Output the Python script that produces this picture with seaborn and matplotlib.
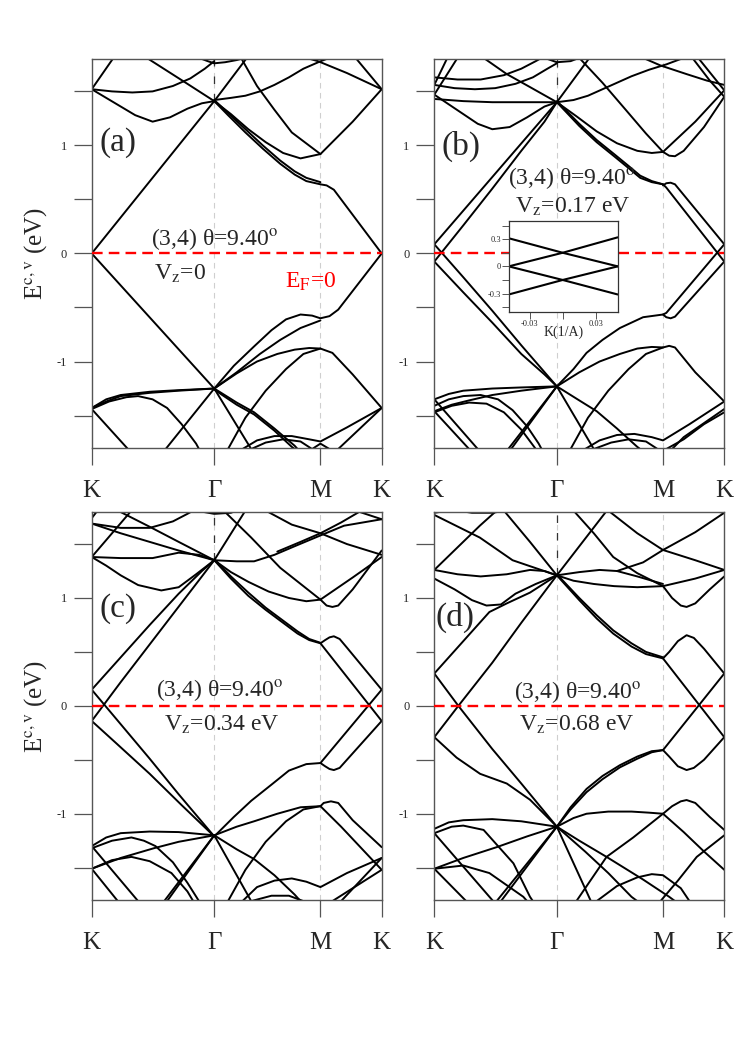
import pandas as pd
import matplotlib
matplotlib.use('Agg')
import matplotlib.pyplot as plt
import seaborn as sns

sns.set_theme(style='ticks')
plt.rcParams['font.family'] = ['Liberation Serif', 'DejaVu Serif']
plt.rcParams['mathtext.fontset'] = 'stix'

# high symmetry points along K-Gamma-M-K (fraction of path)
G = 0.4226
M = 0.7887
k_ticks = [0, G, M, 1]
k_labels = ['K', '\u0393', 'M', 'K']

# bands: list of (k, E) vertices per band
bands_a = [
    [(0, 0.0), (G, 1.41), (0.535, 1.81)],
    [(0, 0.0), (G, -1.25)],
    [(G, 1.41), (0.47, 1.28), (0.53, 1.12), (0.59, 0.97), (0.65, 0.83), (0.70, 0.73), (0.74, 0.67), (M, 0.64), (0.81, 0.63), (0.835, 0.59), (1.0, 0.0)],
    [(G, 1.42), (0.47, 1.30), (0.53, 1.15), (0.59, 1.00), (0.65, 0.86), (0.70, 0.76), (0.74, 0.70), (M, 0.66)],
    [(G, 1.41), (0.48, 1.29), (0.54, 1.15), (0.60, 1.03), (0.66, 0.93), (0.72, 0.88), (M, 0.92)],
    [(0.515, 1.81), (0.57, 1.55), (0.63, 1.33), (0.69, 1.12), (M, 0.92), (0.9, 1.22), (1.0, 1.52)],
    [(0, 1.52), (0.05, 1.44), (0.10, 1.36), (0.15, 1.28), (0.21, 1.22), (0.27, 1.26), (0.33, 1.34), (0.38, 1.39), (G, 1.41)],
    [(0, 1.52), (0.07, 1.50), (0.14, 1.49), (0.21, 1.50), (0.28, 1.55), (0.34, 1.62), (0.39, 1.71), (G, 1.78)],
    [(0, 1.52), (0.075, 1.81)],
    [(0.19, 1.81), (0.26, 1.69), (0.33, 1.57), (G, 1.41)],
    [(0.37, 1.81), (0.40, 1.78), (G, 1.76), (0.46, 1.77), (0.50, 1.79), (0.53, 1.81)],
    [(G, 1.42), (0.48, 1.44), (0.53, 1.46), (0.58, 1.50), (0.63, 1.56), (0.68, 1.63), (0.73, 1.71), (0.79, 1.78), (0.82, 1.81)],
    [(0.74, 1.81), (0.78, 1.78), (0.88, 1.67), (1.0, 1.52)],
    [(1.0, 1.52), (0.91, 1.81)],
    [(G, -1.25), (0.49, -1.04), (0.56, -0.86), (0.62, -0.71), (0.67, -0.61), (0.72, -0.565), (0.76, -0.575), (M, -0.60), (0.82, -0.58), (0.85, -0.52), (1.0, 0.0)],
    [(G, -1.25), (0.50, -1.10), (0.58, -0.93), (0.65, -0.80), (0.72, -0.69), (M, -0.62)],
    [(G, -1.25), (0.50, -1.11), (0.57, -1.0), (0.64, -0.93), (0.70, -0.89), (0.75, -0.875), (M, -0.88), (0.83, -0.92), (0.90, -1.12), (1.0, -1.43)],
    [(0.47, -1.81), (0.53, -1.52), (0.60, -1.27), (0.67, -1.07), (0.73, -0.93), (M, -0.88)],
    [(0, -1.43), (0.05, -1.35), (0.10, -1.31), (0.2, -1.28), (0.3, -1.265), (G, -1.25)],
    [(0, -1.43), (0.05, -1.37), (0.10, -1.32), (0.2, -1.29), (0.3, -1.27), (G, -1.25)],
    [(0, -1.44), (0.06, -1.37), (0.12, -1.33), (0.16, -1.32), (0.21, -1.35), (0.26, -1.43), (0.31, -1.58), (0.36, -1.76), (0.37, -1.81)],
    [(0, -1.44), (0.125, -1.81)],
    [(0.255, -1.81), (G, -1.25), (0.55, -1.81)],
    [(G, -1.25), (0.50, -1.38), (0.56, -1.47), (0.63, -1.62), (0.70, -1.78), (0.71, -1.81)],
    [(G, -1.26), (0.50, -1.40), (0.56, -1.49), (0.63, -1.64), (0.69, -1.79), (0.70, -1.81)],
    [(0.52, -1.81), (0.57, -1.73), (0.63, -1.69), (0.69, -1.69), (0.75, -1.72), (M, -1.74), (0.88, -1.61), (1.0, -1.43)],
    [(0.55, -1.81), (0.60, -1.75), (0.66, -1.72), (0.72, -1.74), (0.76, -1.81)],
    [(0.76, -1.81), (M, -1.76), (0.82, -1.81)],
    [(1.0, -1.43), (0.85, -1.81)],
]

bands_b = [
    [(0, 0.085), (G, 1.40), (0.535, 1.81)],
    [(0, -0.075), (0.1, 0.26), (0.2, 0.60), (0.3, 0.95), (0.38, 1.22), (G, 1.40)],
    [(0, 0.085), (0.1, -0.22), (0.2, -0.53), (0.3, -0.85), (G, -1.23)],
    [(0, -0.075), (0.1, -0.36), (0.2, -0.64), (0.3, -0.93), (0.38, -1.12), (G, -1.23)],
    [(G, 1.40), (0.50, 1.18), (0.56, 1.03), (0.62, 0.90), (0.67, 0.79), (0.71, 0.70), (0.75, 0.66), (M, 0.64), (0.80, 0.61), (1.0, -0.075)],
    [(G, 1.41), (0.50, 1.20), (0.56, 1.05), (0.62, 0.92), (0.67, 0.81), (0.71, 0.72), (0.75, 0.67), (M, 0.64)],
    [(M, 0.63), (0.80, 0.65), (0.815, 0.655), (0.83, 0.64), (1.0, 0.085)],
    [(G, -1.23), (0.48, -1.07), (0.525, -0.92), (0.58, -0.80), (0.64, -0.69), (0.72, -0.59), (M, -0.565), (0.80, -0.55), (1.0, 0.085)],
    [(M, -0.565), (0.80, -0.59), (0.815, -0.60), (0.83, -0.585), (1.0, -0.075)],
    [(G, 1.40), (0.49, 1.27), (0.56, 1.13), (0.63, 1.02), (0.70, 0.95), (0.75, 0.93), (M, 0.94)],
    [(0.50, 1.81), (0.58, 1.58), (0.66, 1.33), (0.73, 1.11), (M, 0.94), (0.9, 1.22), (1.0, 1.51)],
    [(M, 0.94), (0.81, 0.905), (0.83, 0.90), (0.86, 0.95), (0.93, 1.17), (1.0, 1.45)],
    [(0, 1.47), (0.05, 1.38), (0.10, 1.29), (0.15, 1.20), (0.20, 1.15), (0.26, 1.17), (0.32, 1.26), (0.38, 1.36), (G, 1.40)],
    [(0, 1.43), (0.1, 1.41), (0.2, 1.40), (0.3, 1.40), (G, 1.40)],
    [(0, 1.56), (0.07, 1.53), (0.14, 1.52), (0.21, 1.53), (0.28, 1.57), (0.34, 1.63), (0.39, 1.71), (G, 1.76)],
    [(0, 1.63), (0.08, 1.61), (0.16, 1.61), (0.24, 1.65), (0.30, 1.71), (0.35, 1.78), (0.37, 1.81)],
    [(0, 1.47), (0.08, 1.81)],
    [(0, 1.56), (0.045, 1.81)],
    [(0.17, 1.81), (0.25, 1.66), (0.33, 1.54), (G, 1.40)],
    [(0.38, 1.81), (G, 1.77), (0.47, 1.78), (0.50, 1.81)],
    [(G, 1.40), (0.48, 1.42), (0.53, 1.46), (0.58, 1.52), (0.63, 1.58), (0.68, 1.64), (0.74, 1.70), (0.80, 1.75), (0.86, 1.81)],
    [(0.72, 1.81), (0.78, 1.74), (0.87, 1.66), (0.94, 1.60), (1.0, 1.56)],
    [(1.0, 1.51), (0.91, 1.81)],
    [(1.0, 1.45), (0.95, 1.60), (0.89, 1.81)],
    [(0, -1.35), (0.05, -1.30), (0.1, -1.27), (0.2, -1.25), (0.3, -1.24), (G, -1.23)],
    [(0, -1.41), (0.05, -1.35), (0.10, -1.32), (0.16, -1.31), (0.22, -1.35), (0.27, -1.45), (0.32, -1.60), (0.36, -1.76), (0.37, -1.81)],
    [(0, -1.46), (0.06, -1.40), (0.12, -1.36), (0.2, -1.31), (0.3, -1.27), (G, -1.23)],
    [(0, -1.47), (0.06, -1.41), (0.12, -1.38), (0.18, -1.39), (0.24, -1.47), (0.30, -1.63), (0.35, -1.81)],
    [(0, -1.35), (0.15, -1.81)],
    [(0, -1.46), (0.12, -1.81)],
    [(0.255, -1.81), (G, -1.23), (0.55, -1.81)],
    [(0.265, -1.81), (G, -1.23)],
    [(G, -1.23), (0.50, -1.36), (0.56, -1.46), (0.63, -1.62), (0.70, -1.79), (0.71, -1.81)],
    [(G, -1.23), (0.50, -1.10), (0.57, -1.0), (0.64, -0.93), (0.70, -0.88), (0.75, -0.865), (M, -0.87), (0.81, -0.855), (0.83, -0.87), (0.90, -1.10), (1.0, -1.37)],
    [(0.47, -1.81), (0.53, -1.52), (0.60, -1.27), (0.67, -1.07), (0.73, -0.93), (M, -0.87)],
    [(0.52, -1.81), (0.57, -1.73), (0.63, -1.68), (0.69, -1.67), (0.75, -1.70), (M, -1.73), (0.88, -1.58), (1.0, -1.37)],
    [(0.55, -1.81), (0.61, -1.75), (0.67, -1.72), (0.73, -1.74), (0.77, -1.81)],
    [(1.0, -1.44), (0.86, -1.70), (0.82, -1.81)],
    [(0.80, -1.81), (0.86, -1.72), (0.93, -1.58), (1.0, -1.47)],
]

bands_c = [
    [(0, 0.15), (0.1, 0.45), (0.2, 0.75), (0.3, 1.04), (0.38, 1.25), (G, 1.35)],
    [(0, -0.14), (0.1, 0.22), (0.2, 0.57), (0.3, 0.92), (0.38, 1.20), (G, 1.35)],
    [(0, 0.15), (0.1, -0.17), (0.2, -0.49), (0.3, -0.82), (G, -1.21)],
    [(0, -0.14), (0.086, -0.35), (0.2, -0.63), (0.31, -0.92), (G, -1.21)],
    [(G, 1.35), (0.53, 1.81)],
    [(G, 1.35), (0.48, 1.18), (0.54, 1.02), (0.60, 0.89), (0.66, 0.77), (0.71, 0.67), (0.75, 0.61), (M, 0.58), (1.0, -0.14)],
    [(G, 1.36), (0.48, 1.20), (0.54, 1.05), (0.60, 0.91), (0.66, 0.79), (0.71, 0.69), (0.75, 0.62), (M, 0.585)],
    [(M, 0.58), (0.805, 0.61), (0.82, 0.635), (0.835, 0.645), (0.855, 0.62), (0.88, 0.54), (1.0, 0.15)],
    [(G, -1.21), (0.49, -1.03), (0.55, -0.88), (0.62, -0.73), (0.68, -0.60), (0.74, -0.54), (M, -0.53), (1.0, 0.15)],
    [(M, -0.53), (0.805, -0.56), (0.82, -0.585), (0.835, -0.595), (0.855, -0.575), (0.88, -0.50), (1.0, -0.14)],
    [(G, 1.35), (0.48, 1.24), (0.54, 1.15), (0.61, 1.06), (0.68, 1.0), (0.74, 0.97), (M, 0.985)],
    [(0.455, 1.81), (0.55, 1.56), (0.65, 1.28), (M, 0.985), (0.9, 1.19), (1.0, 1.38)],
    [(M, 0.985), (0.81, 0.93), (0.83, 0.917), (0.85, 0.93), (0.9, 1.08), (1.0, 1.44)],
    [(0, 1.38), (0.1, 1.37), (0.21, 1.37), (0.3, 1.42), (0.37, 1.40), (G, 1.35)],
    [(0, 1.38), (0.05, 1.30), (0.10, 1.21), (0.16, 1.12), (0.24, 1.07), (0.30, 1.10), (0.36, 1.22), (G, 1.35)],
    [(0, 1.69), (0.1, 1.65), (0.2, 1.65), (0.28, 1.71), (0.33, 1.78), (0.35, 1.81)],
    [(0, 1.69), (0.1, 1.60), (0.2, 1.52), (0.3, 1.44), (G, 1.35)],
    [(0, 1.38), (0.137, 1.81)],
    [(0, 1.74), (0.02, 1.81)],
    [(0.09, 1.81), (0.2, 1.66), (0.3, 1.52), (G, 1.35)],
    [(G, 1.35), (0.50, 1.34), (0.56, 1.34), (0.63, 1.40), (0.70, 1.48), (0.78, 1.57), (0.87, 1.67), (1.0, 1.73)],
    [(0.60, 1.81), (0.69, 1.68), (M, 1.60), (0.88, 1.50), (1.0, 1.40)],
    [(0.93, 1.81), (0.86, 1.70), (M, 1.60), (0.72, 1.52), (0.64, 1.43)],
    [(1.0, 1.73), (0.91, 1.81)],
    [(0.36, 1.81), (G, 1.78), (0.48, 1.79), (0.50, 1.81)],
    [(G, -1.20), (0.50, -1.12), (0.56, -1.07), (0.64, -1.0), (0.72, -0.94), (M, -0.93), (0.86, -1.12), (0.93, -1.32), (1.0, -1.52)],
    [(0.47, -1.81), (0.53, -1.52), (0.60, -1.26), (0.67, -1.07), (0.73, -0.96), (M, -0.93)],
    [(M, -0.93), (0.80, -0.90), (0.825, -0.885), (0.85, -0.90), (0.9, -1.06), (1.0, -1.31)],
    [(0, -1.30), (0.05, -1.22), (0.10, -1.18), (0.2, -1.165), (0.3, -1.17), (G, -1.20)],
    [(0, -1.32), (0.07, -1.25), (0.137, -1.22), (0.18, -1.25), (0.22, -1.30), (0.28, -1.45), (0.33, -1.64), (0.37, -1.81)],
    [(0, -1.51), (0.1, -1.41), (0.214, -1.32), (0.3, -1.26), (G, -1.20)],
    [(0, -1.51), (0.07, -1.43), (0.137, -1.40), (0.2, -1.44), (0.275, -1.55), (0.33, -1.72), (0.35, -1.81)],
    [(0, -1.30), (0.16, -1.81)],
    [(0, -1.51), (0.09, -1.81)],
    [(0.25, -1.81), (G, -1.20), (0.55, -1.81)],
    [(0.26, -1.81), (G, -1.20)],
    [(G, -1.20), (0.50, -1.33), (0.56, -1.42), (0.63, -1.57), (0.70, -1.75), (0.72, -1.81)],
    [(0.52, -1.81), (0.57, -1.68), (0.63, -1.62), (0.69, -1.60), (0.74, -1.63), (M, -1.68), (0.88, -1.55), (1.0, -1.41)],
    [(0.55, -1.81), (0.62, -1.76), (0.68, -1.76), (0.73, -1.81)],
    [(1.0, -1.41), (0.86, -1.81)],
    [(1.0, -1.52), (0.83, -1.81)],
]

bands_d = [
    [(0, 0.30), (0.1, 0.60), (0.19, 0.87), (0.25, 0.95), (0.33, 1.05), (G, 1.21)],
    [(0, -0.29), (0.083, 0.0), (0.2, 0.40), (0.3, 0.77), (G, 1.21)],
    [(0, 1.18), (0.07, 1.08), (0.13, 0.98), (0.18, 0.93), (0.23, 0.94), (0.28, 1.04), (0.35, 1.13), (G, 1.21)],
    [(0, 0.30), (0.083, 0.0), (0.2, -0.40), (0.3, -0.72), (G, -1.12)],
    [(0, -0.29), (0.077, -0.48), (0.158, -0.63), (0.25, -0.72), (0.33, -0.87), (G, -1.12)],
    [(G, 1.21), (0.595, 1.81)],
    [(G, 1.21), (0.50, 0.98), (0.56, 0.81), (0.617, 0.67), (0.68, 0.55), (0.73, 0.48), (M, 0.44), (1.0, -0.29)],
    [(G, 1.22), (0.50, 1.00), (0.56, 0.84), (0.617, 0.70), (0.68, 0.58), (0.73, 0.50), (M, 0.45)],
    [(M, 0.44), (0.81, 0.50), (0.84, 0.60), (0.87, 0.655), (0.895, 0.63), (0.93, 0.53), (1.0, 0.30)],
    [(G, -1.12), (0.47, -0.96), (0.525, -0.80), (0.58, -0.68), (0.64, -0.57), (0.70, -0.49), (0.75, -0.43), (M, -0.41), (1.0, 0.30)],
    [(G, -1.12), (0.47, -0.94), (0.525, -0.77), (0.58, -0.65), (0.64, -0.55), (0.70, -0.47), (0.75, -0.42), (M, -0.41)],
    [(M, -0.41), (0.81, -0.47), (0.84, -0.56), (0.87, -0.595), (0.895, -0.575), (0.93, -0.50), (1.0, -0.29)],
    [(G, 1.21), (0.48, 1.16), (0.55, 1.13), (0.62, 1.11), (0.70, 1.10), (M, 1.11)],
    [(G, 1.21), (0.50, 1.24), (0.57, 1.26), (0.63, 1.25), (0.70, 1.20), (M, 1.13)],
    [(0.48, 1.81), (0.55, 1.60), (0.617, 1.38), (0.70, 1.23), (M, 1.11), (0.9, 1.18), (1.0, 1.26)],
    [(M, 1.11), (0.82, 1.0), (0.85, 0.93), (0.87, 0.917), (0.9, 0.95), (0.95, 1.08), (1.0, 1.20)],
    [(0.60, 1.81), (0.70, 1.60), (M, 1.445), (0.9, 1.35), (1.0, 1.26)],
    [(1.0, 1.79), (0.9, 1.61), (M, 1.445), (0.72, 1.33), (0.63, 1.25)],
    [(0, 1.26), (0.08, 1.22), (0.16, 1.20), (0.25, 1.22), (0.33, 1.26), (0.38, 1.25), (G, 1.21)],
    [(0, 1.77), (0.157, 1.56), (0.27, 1.35), (G, 1.21)],
    [(0, 1.26), (0.157, 1.67), (0.215, 1.81)],
    [(0.24, 1.81), (0.33, 1.52), (G, 1.21)],
    [(0, 1.79), (0.05, 1.81)],
    [(0.08, 1.81), (0.13, 1.79), (0.2, 1.79), (0.25, 1.81)],
    [(1.0, 1.79), (0.95, 1.81)],
    [(G, -1.12), (0.48, -1.04), (0.525, -1.0), (0.6, -0.98), (0.68, -0.98), (0.74, -0.99), (M, -1.0), (0.86, -1.17), (0.93, -1.35), (1.0, -1.52)],
    [(M, -1.0), (0.82, -0.93), (0.85, -0.885), (0.87, -0.873), (0.9, -0.90), (0.95, -1.03), (1.0, -1.15)],
    [(G, -1.12), (0.50, -1.25), (0.594, -1.40), (0.72, -1.61), (0.81, -1.77), (0.83, -1.81)],
    [(0.49, -1.81), (0.594, -1.40), (0.686, -1.22), (M, -1.0)],
    [(0.56, -1.81), (0.63, -1.67), (0.70, -1.59), (0.75, -1.56), (M, -1.57), (0.85, -1.69), (0.88, -1.81)],
    [(0.78, -1.81), (0.84, -1.62), (0.905, -1.40), (1.0, -1.20)],
    [(G, -1.12), (0.54, -1.81)],
    [(G, -1.12), (0.52, -1.35), (0.60, -1.55), (0.68, -1.77), (0.70, -1.81)],
    [(0.215, -1.81), (G, -1.12)],
    [(0.23, -1.81), (G, -1.12)],
    [(0, -1.14), (0.05, -1.08), (0.10, -1.06), (0.2, -1.05), (0.3, -1.07), (G, -1.12)],
    [(0, -1.18), (0.06, -1.12), (0.10, -1.11), (0.17, -1.15), (0.273, -1.46), (0.33, -1.77), (0.34, -1.81)],
    [(0, -1.51), (0.1, -1.41), (0.215, -1.31), (0.32, -1.21), (G, -1.12)],
    [(0, -1.51), (0.10, -1.48), (0.19, -1.55), (0.307, -1.77), (0.32, -1.81)],
    [(0, -1.18), (0.203, -1.81)],
    [(0, -1.51), (0.11, -1.81)],
]

# inset of panel (b): bands near K
inset_bands = [
    [(-0.049, 0.31), (0.0, 0.15), (0.05, 0.0)],
    [(-0.049, 0.0), (0.0, 0.15), (0.05, 0.32)],
    [(-0.049, 0.0), (0.0, -0.15), (0.05, -0.31)],
    [(-0.049, -0.31), (0.0, -0.15), (0.05, 0.0)],
]

panel_tags = ['(a)', '(b)', '(c)', '(d)']
vz_labels = ['V$_{\\rm z}$=0', 'V$_{\\rm z}$=0.17 eV', 'V$_{\\rm z}$=0.34 eV', 'V$_{\\rm z}$=0.68 eV']
gamma_top = [1.41, 1.40, 1.35, 1.21]


def to_frame(bands):
    rows = []
    for i, band in enumerate(bands):
        for k, e in band:
            rows.append({'band': i, 'k': k, 'E': e})
    return pd.DataFrame(rows)


fig = plt.figure(figsize=(7.48, 10.57), dpi=100)
positions = [[0.1226, 0.5762, 0.3877, 0.368], [0.5806, 0.5762, 0.3877, 0.368],
             [0.1226, 0.1485, 0.3877, 0.3674], [0.5806, 0.1485, 0.3877, 0.3674]]
all_bands = [bands_a, bands_b, bands_c, bands_d]
# text anchors (k, E) for tag, title line, Vz line
tag_pos = [(0.026, 1.03), (0.026, 0.99), (0.026, 0.90), (0.005, 0.82)]
title_pos = [(0.205, 0.13), (0.255, 0.70), (0.222, 0.145), (0.275, 0.13)]
vz_pos = [(0.215, -0.19), (0.28, 0.435), (0.25, -0.18), (0.293, -0.18)]

spine_col = '#555555'
for i in range(4):
    ax = fig.add_axes(positions[i])
    df = to_frame(all_bands[i])
    sns.lineplot(data=df, x='k', y='E', units='band', estimator=None, sort=False,
                 color='black', lw=1.4, ax=ax, legend=False)
    ax.axvline(G, color='#cfcfcf', lw=0.8, ls=(0, (5, 4)), zorder=0)
    ax.axvline(M, color='#cfcfcf', lw=0.8, ls=(0, (5, 4)), zorder=0)
    ax.plot([G, G], [gamma_top[i], 1.8], color='#333333', lw=0.9, ls=(0, (6, 8)), zorder=1)
    ax.axhline(0, color='red', lw=1.7, ls=(0, (4.5, 2.6)), zorder=4)
    ax.set_xlim(0, 1)
    ax.set_ylim(-1.8, 1.8)
    ax.set_xticks(k_ticks)
    ax.set_xticklabels(k_labels, fontsize=18)
    ax.set_yticks([-1, 0, 1])
    ax.set_yticklabels(['-1', '0', '1'], fontsize=9)
    ax.set_yticks([-1.5, -0.5, 0.5, 1.5], minor=True)
    ax.tick_params(axis='x', direction='out', length=12, width=0.9, color=spine_col, pad=11)
    ax.tick_params(axis='y', which='both', direction='out', length=13, width=0.9, color=spine_col, pad=5)
    ax.set_xlabel('')
    ax.set_ylabel('')
    for s in ax.spines.values():
        s.set_color(spine_col)
        s.set_linewidth(1.0)
    ax.text(*tag_pos[i], panel_tags[i], fontsize=24, ha='left', va='center')
    ax.text(*title_pos[i], '(3,4) \u03b8=9.40$^{\\rm o}$', fontsize=17, ha='left', va='center', zorder=5)
    ax.text(*vz_pos[i], vz_labels[i], fontsize=17, ha='left', va='center', zorder=5)
    if i == 0:
        ax.text(0.665, -0.26, 'E$_{\\rm F}$=0', color='red', fontsize=17, ha='left', va='center')

# y labels
fig.text(0.047, 0.760, 'E$^{\\rm c,v}$ (eV)', rotation=90, fontsize=18, ha='center', va='center')
fig.text(0.047, 0.332, 'E$^{\\rm c,v}$ (eV)', rotation=90, fontsize=18, ha='center', va='center')

# inset in panel (b)
axin = fig.add_axes([0.6809, 0.7051, 0.1449, 0.0858])
axin.set_facecolor('white')
sns.lineplot(data=to_frame(inset_bands), x='k', y='E', units='band', estimator=None, sort=False,
             color='black', lw=1.5, ax=axin, legend=False)
axin.set_xlim(-0.0485, 0.05)
axin.set_ylim(-0.5, 0.5)
axin.set_xticks([-0.03, 0, 0.03])
axin.set_xticklabels(['-0.03', '', '0.03'], fontsize=6)
axin.set_yticks([-0.3, 0, 0.3])
axin.set_yticklabels(['-0.3', '0', '0.3'], fontsize=6)
axin.set_yticks([-0.45, -0.15, 0.15, 0.45], minor=True)
axin.tick_params(axis='both', which='both', direction='out', length=5, width=0.7, color=spine_col, pad=1)
axin.set_xlabel('K(1/A)', fontsize=10, labelpad=-2)
axin.set_ylabel('')
for s in axin.spines.values():
    s.set_color('#333333')
    s.set_linewidth(0.9)

fig.savefig('out.png', dpi=100)
